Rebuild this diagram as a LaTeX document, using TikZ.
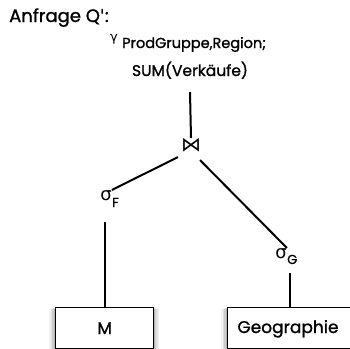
\documentclass[tikz,border=0pt]{standalone}
\usepackage{fontspec}
\setmainfont{Poppins}[FakeBold=1.2]
\newfontfamily\symfont{DejaVu Sans}[Ligatures=TeXOff]
\begin{document}
\begin{tikzpicture}[x=1pt,y=1pt,
  edge/.style={line width=2pt},
  relbox/.style={draw,line width=1.3pt,fill=white,minimum height=41pt,inner sep=0pt},
  lbl/.style={inner sep=0pt,font=\fontsize{14.5}{16}\selectfont},
  opsym/.style={inner sep=0pt,font=\symfont\fontsize{18}{20}\selectfont}]
\useasboundingbox (0,0) rectangle (350,-348);
\clip (0,0) rectangle (350,-348);

% title
\node[lbl,anchor=base west,font=\fontsize{18}{20}\selectfont] (title) at (9,-22) {Anfrage Q{\symfont '}:};

% grouping / aggregation operator
\node[opsym,anchor=base west,font=\symfont\fontsize{13}{14}\selectfont] (gam) at (110,-41) {γ};
\node[lbl,anchor=base west] (grp) at (122,-48) {ProdGruppe,Region;};
\node[lbl,anchor=base,font=\fontsize{15.5}{18}\selectfont] (agg) at (190,-76) {SUM(Verkäufe)};
\coordinate (aggbot) at (190,-92);

% join
\node[opsym,font=\symfont\fontsize{20}{22}\selectfont] (join) at (191,-145) {⋈};

% selections
\node[opsym,anchor=base] (sigF) at (106,-200) {σ};
\node[lbl,anchor=base west,font=\fontsize{13}{14}\selectfont] (subF) at (112,-207) {F};
\node[opsym,anchor=base] (sigG) at (281,-258) {σ};
\node[lbl,anchor=base west,font=\fontsize{13}{14}\selectfont] (subG) at (287,-264) {G};

% soft shadows under the relation boxes
\foreach \i/\o in {4/0.05,3/0.07,2/0.09,1/0.12}{
  \fill[black,opacity=\o] (55-\i*1.5,-307-\i*0.5) rectangle (153+\i*1.5,-352);
  \fill[black,opacity=\o] (227-\i*1.5,-307-\i*0.5) rectangle (360,-352);
}

% relations
\node[relbox,minimum width=98pt,anchor=north west,font=\fontsize{17}{19}\selectfont] (M) at (55,-307) {M};
\node[relbox,minimum width=130pt,anchor=north west] (geo) at (227,-307) {};
\node[lbl,anchor=base,font=\fontsize{17}{19}\selectfont] (geotxt) at (288,-333) {Geographie};

% tree edges
\draw[edge] (aggbot) -- (join.north);
\draw[edge] ([xshift=-13pt,yshift=-5pt]join.south) -- (sigF.north east);
\draw[edge] ([xshift=9pt,yshift=-8pt]join.south) -- (sigG.north east);
\draw[edge] (105,-222) -- (M.north -| 105,0);
\draw[edge] (290,-273) -- (geo.north -| 290,0);
\end{tikzpicture}
\end{document}
